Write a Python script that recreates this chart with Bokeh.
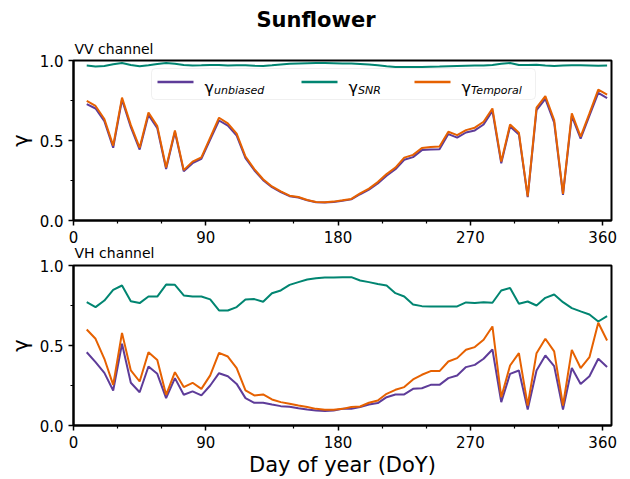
from bokeh.plotting import figure
from bokeh.layouts import column
from bokeh.models import (FixedTicker, NumeralTickFormatter, Title, BoxAnnotation,
                          Label, Range1d)
from bokeh.embed import file_html
from bokeh.resources import INLINE

# Sentinel-1 acquisition dates (day of year)
doy = [9, 15, 21, 27, 33, 39, 45, 51, 57, 63, 69, 75, 81, 87, 93, 99, 105, 111, 117, 123,
       129, 135, 141, 147, 153, 159, 165, 171, 177, 183, 189, 195, 201, 207, 213, 219, 225, 231, 237, 243,
       249, 255, 261, 267, 273, 279, 285, 291, 297, 303, 309, 315, 321, 327, 333, 339, 345, 351, 357, 363]

# VV channel coherence
vv_unbiased = [0.728, 0.700, 0.620, 0.455, 0.755, 0.583, 0.443, 0.660, 0.577, 0.322,
               0.553, 0.307, 0.358, 0.386, 0.505, 0.625, 0.593, 0.530, 0.390, 0.314,
               0.252, 0.208, 0.178, 0.152, 0.144, 0.126, 0.114, 0.112, 0.115, 0.123,
               0.132, 0.164, 0.193, 0.232, 0.280, 0.320, 0.380, 0.396, 0.440, 0.444,
               0.446, 0.540, 0.518, 0.550, 0.563, 0.600, 0.685, 0.358, 0.588, 0.538,
               0.146, 0.690, 0.760, 0.612, 0.160, 0.653, 0.512, 0.655, 0.798, 0.765]
vv_snr = [0.968, 0.963, 0.966, 0.976, 0.984, 0.972, 0.964, 0.970, 0.978, 0.984,
          0.979, 0.972, 0.969, 0.970, 0.972, 0.972, 0.968, 0.970, 0.970, 0.967,
          0.966, 0.970, 0.975, 0.979, 0.982, 0.983, 0.984, 0.984, 0.983, 0.982,
          0.981, 0.978, 0.975, 0.970, 0.964, 0.960, 0.959, 0.959, 0.960, 0.961,
          0.962, 0.964, 0.966, 0.967, 0.968, 0.968, 0.972, 0.979, 0.984, 0.972,
          0.972, 0.973, 0.968, 0.966, 0.969, 0.970, 0.970, 0.969, 0.967, 0.968]
vv_temporal = [0.747, 0.716, 0.634, 0.468, 0.768, 0.596, 0.455, 0.675, 0.590, 0.331,
               0.563, 0.315, 0.368, 0.395, 0.518, 0.642, 0.607, 0.543, 0.400, 0.321,
               0.258, 0.213, 0.182, 0.155, 0.147, 0.128, 0.116, 0.114, 0.118, 0.126,
               0.135, 0.170, 0.199, 0.240, 0.290, 0.331, 0.393, 0.410, 0.453, 0.460,
               0.462, 0.555, 0.534, 0.565, 0.580, 0.617, 0.700, 0.368, 0.600, 0.549,
               0.151, 0.706, 0.778, 0.627, 0.166, 0.669, 0.524, 0.669, 0.818, 0.787]

# VH channel coherence
vh_unbiased = [0.458, 0.396, 0.329, 0.219, 0.511, 0.267, 0.208, 0.369, 0.323, 0.171,
               0.296, 0.192, 0.213, 0.188, 0.250, 0.327, 0.308, 0.260, 0.171, 0.142,
               0.142, 0.131, 0.121, 0.117, 0.108, 0.100, 0.094, 0.090, 0.094, 0.104,
               0.104, 0.115, 0.131, 0.140, 0.177, 0.194, 0.194, 0.229, 0.233, 0.254,
               0.254, 0.296, 0.313, 0.365, 0.379, 0.417, 0.475, 0.146, 0.323, 0.344,
               0.100, 0.344, 0.438, 0.371, 0.100, 0.359, 0.260, 0.308, 0.417, 0.365]
vh_snr = [0.771, 0.740, 0.781, 0.848, 0.875, 0.777, 0.765, 0.806, 0.806, 0.881,
          0.879, 0.813, 0.806, 0.806, 0.788, 0.719, 0.719, 0.740, 0.788, 0.790,
          0.773, 0.827, 0.844, 0.879, 0.896, 0.912, 0.921, 0.925, 0.925, 0.927,
          0.927, 0.906, 0.896, 0.885, 0.875, 0.827, 0.806, 0.756, 0.746, 0.744,
          0.744, 0.744, 0.744, 0.769, 0.765, 0.771, 0.767, 0.844, 0.859, 0.761,
          0.775, 0.750, 0.798, 0.819, 0.771, 0.734, 0.713, 0.694, 0.650, 0.684]
vh_temporal = [0.600, 0.542, 0.417, 0.254, 0.579, 0.344, 0.275, 0.458, 0.410, 0.192,
               0.333, 0.240, 0.267, 0.229, 0.313, 0.454, 0.431, 0.359, 0.219, 0.188,
               0.194, 0.163, 0.146, 0.136, 0.125, 0.115, 0.104, 0.098, 0.098, 0.104,
               0.115, 0.119, 0.142, 0.156, 0.198, 0.223, 0.240, 0.288, 0.317, 0.340,
               0.340, 0.400, 0.421, 0.473, 0.490, 0.536, 0.619, 0.177, 0.375, 0.452,
               0.125, 0.452, 0.542, 0.463, 0.125, 0.473, 0.359, 0.427, 0.642, 0.531]

x_ticks = [0, 90, 180, 270, 360]
x_minor = [30, 60, 120, 150, 210, 240, 300, 330]
y_ticks = [0.0, 0.5, 1.0]
y_minor = [0.25, 0.75]

series_names = ["unbiased", "SNR", "Temporal"]
COLORS = ["#5e3c99", "#018571", "#e66101"]
FONT = "DejaVu Sans"
X_MAX = 366


def style_title(t, size, bold=False):
    t.text_font = FONT
    t.text_font_size = size
    t.text_font_style = "bold" if bold else "normal"
    t.text_color = "black"
    t.align = "left"


def make_panel(min_top, min_bottom):
    p = figure(frame_width=538, frame_height=160, x_range=Range1d(0, X_MAX),
               y_range=Range1d(0, 1), output_backend="svg", toolbar_location=None,
               min_border_left=73, min_border_right=19, min_border_top=min_top,
               min_border_bottom=min_bottom, background_fill_color="white",
               border_fill_color="white")
    p.grid.visible = False
    p.outline_line_color = "black"
    p.outline_line_width = 2
    p.xaxis.ticker = FixedTicker(ticks=x_ticks, minor_ticks=x_minor)
    p.yaxis.ticker = FixedTicker(ticks=y_ticks, minor_ticks=y_minor)
    p.yaxis.formatter = NumeralTickFormatter(format="0.0")
    for ax in (p.xaxis, p.yaxis):
        ax.axis_line_width = 2
        ax.axis_line_color = "black"
        ax.major_tick_line_width = 1.5
        ax.minor_tick_line_width = 1.2
        ax.major_tick_line_color = "black"
        ax.minor_tick_line_color = "black"
        ax.major_tick_in = 0
        ax.major_tick_out = 5
        ax.minor_tick_in = 0
        ax.minor_tick_out = 3
        ax.major_label_text_font = FONT
        ax.major_label_text_font_size = "15px"
        ax.major_label_text_color = "black"
        ax.axis_label_text_font = FONT
        ax.axis_label_text_font_style = "normal"
        ax.axis_label_text_color = "black"
    p.yaxis.axis_label = "\u03b3"
    p.yaxis.axis_label_text_font_size = "21px"
    p.yaxis.axis_label_standoff = 4
    return p


def draw_series(p, values):
    for vals, color in zip(values, COLORS):
        p.line(doy, vals, line_color=color, line_width=2)


def px_x(px):
    return (px - 73) / 538 * X_MAX


def px_y(py, frame_top=60):
    return (frame_top + 160 - py) / 160


# Upper panel: VV channel, with the figure heading above it
top = make_panel(60, 39)
top.title.text = "Sunflower"
style_title(top.title, "21px", bold=True)
top.title.offset = 183
top.title.standoff = 5
vv_title = Title(text="VV channel", offset=1, standoff=8)
style_title(vv_title, "14px")
top.add_layout(vv_title, "above")
draw_series(top, [vv_unbiased, vv_snr, vv_temporal])

# Caption of the lower panel, set in the gap under the upper panel's axis
vh_title = Title(text="VH channel", offset=1, standoff=-6)
style_title(vh_title, "14px")
vh_title.text_line_height = 1.0
top.add_layout(vh_title, "below")

# Lower panel: VH channel
bottom = make_panel(6, 0)
draw_series(bottom, [vh_unbiased, vh_snr, vh_temporal])
bottom.xaxis.axis_label = "Day of year (DoY)"
bottom.xaxis.axis_label_text_font_size = "21px"
bottom.xaxis.axis_label_standoff = 2

# Legend drawn by hand so the subscripts can be set in a smaller italic face.
top.add_layout(BoxAnnotation(left=px_x(151), right=px_x(535), top=px_y(68), bottom=px_y(99),
                             fill_color="white", fill_alpha=0.85, line_color="#cccccc",
                             line_width=1, border_radius=4))
swatch_left = [157, 301, 414]
for i, (name, color) in enumerate(zip(series_names, COLORS)):
    x0 = swatch_left[i]
    top.segment(x0=[px_x(x0)], y0=[px_y(81.5)], x1=[px_x(x0 + 36)], y1=[px_y(81.5)],
                line_color=color, line_width=2.5, level="overlay")
    top.add_layout(Label(x=px_x(x0 + 47), y=px_y(86.5), text="\u03b3", text_font=FONT,
                         text_font_size="16px", text_baseline="alphabetic",
                         text_color="black", level="overlay"))
    top.add_layout(Label(x=px_x(x0 + 56.5), y=px_y(90), text=name, text_font=FONT,
                         text_font_size="11px", text_font_style="italic",
                         text_baseline="alphabetic", text_color="black", level="overlay"))

layout = column(top, bottom, spacing=0)
open("out.html", "w").write(file_html(layout, INLINE))
